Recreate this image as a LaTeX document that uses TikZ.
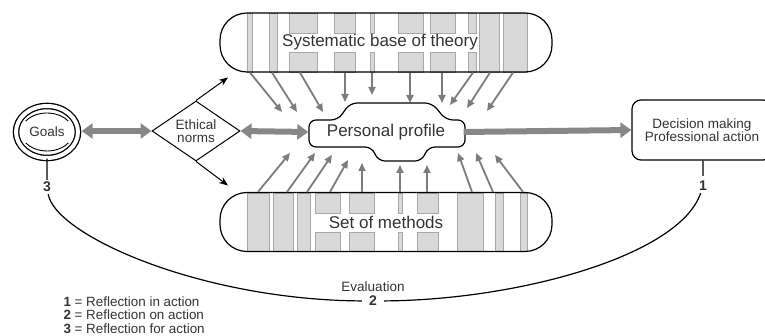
\documentclass[tikz,border=0pt]{standalone}
\usepackage{fontspec}
\setmainfont{Liberation Sans}
\usepackage{tikz}
\usetikzlibrary{arrows.meta}
\usetikzlibrary{positioning}
\usetikzlibrary{shapes.geometric}

\definecolor{ink}{HTML}{333333}
\definecolor{stripefill}{HTML}{D9D9D9}
\definecolor{stripeline}{HTML}{A8A8A8}
\definecolor{raygray}{HTML}{7C7C7C}
\definecolor{broadgray}{HTML}{878787}

\begin{document}
\begin{tikzpicture}[
            x = 1pt, y = -1pt, % pixel grid, y pointing down
            > = {Stealth[length=9pt, width=7pt]}, % arrow head style
            every node/.style = {text = ink, font = \fontsize{13.5}{12.5}\selectfont},
            node distance = 0pt
        ]

        \tikzstyle{bar}=[
            draw,
            line width = 1.2pt,
            rounded corners = 27pt,
            minimum width = 332pt,
            minimum height = 59pt,
            inner sep = 0pt
        ]
        \tikzstyle{bartext}=[font = \fontsize{17}{20}\selectfont]
        \tikzstyle{stripe}=[fill = stripefill, draw = stripeline, line width = 0.8pt]
        \tikzstyle{ray}=[draw = raygray, line width = 1.8pt, -{Triangle[length=8pt, width=7pt]}]
        \tikzstyle{broad}=[draw = broadgray, line width = 6pt,
            arrows = {Triangle[length=11pt, width=15pt]-Triangle[length=11pt, width=15pt]}]
        \tikzstyle{num}=[inner sep = 2pt, font = \bfseries\fontsize{14}{14}\selectfont]

        \useasboundingbox (0,0) rectangle (765,336);

	% stripes of the theory bar
        \foreach \a/\b in {247/252, 269/277, 479/499, 503/527}
            \draw[stripe] (\a,13) rectangle (\b,72);
        \foreach \a/\b in {289/317, 334/355, 370/374, 398/423, 430/455, 468/476} {
            \draw[stripe] (\a,13) rectangle (\b,33);
            \draw[stripe] (\a,52) rectangle (\b,72);
        }

	% stripes of the methods bar
        \foreach \a/\b in {247/269, 273/293, 297/310, 457/483, 495/503, 520/527}
            \draw[stripe] (\a,193) rectangle (\b,251);
        \foreach \a/\b in {315/340, 349/374, 398/402, 417/438} {
            \draw[stripe] (\a,193) rectangle (\b,213);
            \draw[stripe] (\a,232) rectangle (\b,251);
        }

	% the two bars
        \node[bar] (theory) at (386,42.5) {};
        \node[bartext] at ([xshift=-6pt]theory.center) {Systematic base of theory};
        \node[bar] (methods) at (386,222) {};
        \node[bartext] at (methods.center) {Set of methods};

	% personal profile
        \node[bartext, inner sep = 0pt, minimum width = 155pt, minimum height = 26pt] (profile) at (386,132) {Personal profile};
        \draw[line width = 1.2pt, rounded corners = 7pt]
            (309,120) -- (338,120) -- (350,103) -- (432,103) -- (446,120) -- (465,120)
            -- (465,147) -- (428,147) -- (422,161) -- (378,161) -- (372,147) -- (309,147) -- cycle;

	% goals, norms, action
        \node[ellipse, draw, line width = 1.3pt, double, double distance = 4pt,
              minimum width = 62pt, minimum height = 52pt, inner sep = 0pt] (goals) at (47,132) {Goals};
        \draw[line width = 0.9pt] (goals.center) ++(215:26 and 19) arc[start angle = 215, end angle = 325, x radius = 26, y radius = 19];
        \draw[line width = 0.9pt] (goals.center) ++(35:26 and 19) arc[start angle = 35, end angle = 145, x radius = 26, y radius = 19];

        \node[diamond, draw, line width = 1pt, aspect = 1.5, inner sep = 0pt,
              minimum width = 88pt, minimum height = 60pt, align = center] (ethics) at (196,131) {Ethical\\norms};

        \node[draw, line width = 1.2pt, rounded corners = 9pt, minimum width = 140pt,
              minimum height = 60pt, align = center] (decision) at (702,130) {Decision making\\Professional action};

	% broad arrows
        \draw[broad, shorten < = 3pt] (goals.east |- ethics.west) -- (ethics.west);
        \draw[broad] (ethics.east) -- (profile.west);
        \draw[broad, arrows = -{Triangle[length=11pt, width=15pt]}] (profile.east) -- (decision.west);

	% norms feed both bars
        \draw[->, line width = 1pt] (ethics.north) -- ++(32,-23);
        \draw[->, line width = 1pt] (ethics.south) -- ++(32,24);

	% rays onto the profile
        \foreach \sx/\ex/\ey in {250/282/112, 272/297/112, 300/323/112, 345/345/102, 372/372/95,
                                 410/410/103, 442/442/103, 473/450/105, 490/467/108, 513/487/111}
            \draw[ray] (\sx,0 |- theory.south) -- (\ex,\ey);
        \foreach \sx/\ex/\ey in {258/290/153, 287/315/153, 307/332/155, 330/348/160, 362/362/163,
                                 400/400/165, 427/427/165, 472/458/153, 493/476/153, 523/495/155}
            \draw[ray] (\sx,0 |- methods.north) -- (\ex,\ey);

	% evaluation loop
        \node[num] (n3) at (47,187) {3};
        \node[num, inner xsep = 7pt] (n2) at (373,301) {2};
        \node[num] (n1) at (703,186) {1};
        \node (eval) [above = -1pt of n2] {Evaluation};

        \draw[line width = 1.2pt, shorten < = 3pt] (goals.south) -- (n3)
            .. controls (55,235) and (200,300) .. (n2)
            .. controls (520,300) and (680,255) .. (n1) -- (n1 |- decision.south);

	% legend
        \node[anchor = north west, align = left, font = \fontsize{13.4}{13.6}\selectfont] (legend) at (60,293)
            {\textbf{1} = Reflection in action\\ \textbf{2} = Reflection on action\\ \textbf{3} = Reflection for action};

\end{tikzpicture}
\end{document}
